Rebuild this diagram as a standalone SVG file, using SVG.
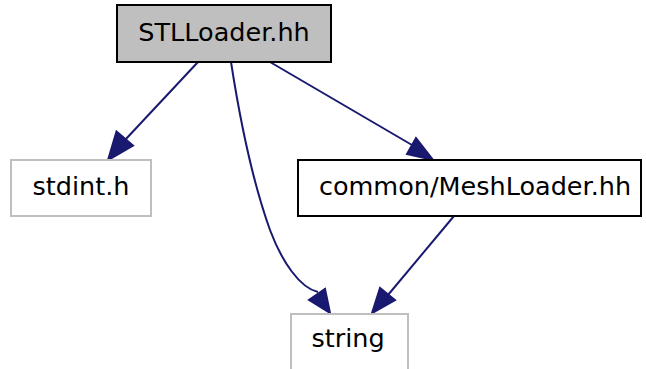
<svg xmlns="http://www.w3.org/2000/svg" width="646" height="369" viewBox="0 0 646 369">
<defs>
<style>
text{font-family:"DejaVu Sans",sans-serif;font-size:25.5px;fill:#000;text-anchor:middle}
.e{fill:none;stroke:#191970;stroke-width:2}
.h{fill:#191970;stroke:#191970;stroke-width:2}
</style>
</defs>
<rect width="646" height="369" fill="#fff"/>
<g id="edges">
<path class="e" d="M198,62 L125,140"/>
<polygon class="h" points="116.5,131.5 108,160 133,145.5"/>
<path class="e" d="M231,62 C240,120 252,180 270,230 C282,262 300,288 318,292"/>
<path class="e" d="M270,62 L412,145"/>
<polygon class="h" points="407,154 433,160 416,138"/>
<path class="e" d="M454,216 L388,295"/>
<polygon class="h" points="380,288 372,313 395,300"/>
<polygon class="h" points="309,300 330,313 325,289"/>
</g>
<g id="node-stlloader">
<rect x="117" y="5" width="214" height="57" fill="#bfbfbf" stroke="#000" stroke-width="2"/>
<text x="224" y="41">STLLoader.hh</text>
</g>
<g id="node-stdint">
<rect x="11" y="160" width="140" height="56" fill="#fff" stroke="#bfbfbf" stroke-width="2"/>
<text x="81" y="195">stdint.h</text>
</g>
<g id="node-meshloader">
<rect x="298" y="160" width="343" height="56" fill="#fff" stroke="#000" stroke-width="2"/>
<text x="475" y="195">common/MeshLoader.hh</text>
</g>
<g id="node-string">
<rect x="291" y="314" width="117" height="60" fill="#fff" stroke="#bfbfbf" stroke-width="2"/>
<text x="348" y="347">string</text>
</g>
</svg>
